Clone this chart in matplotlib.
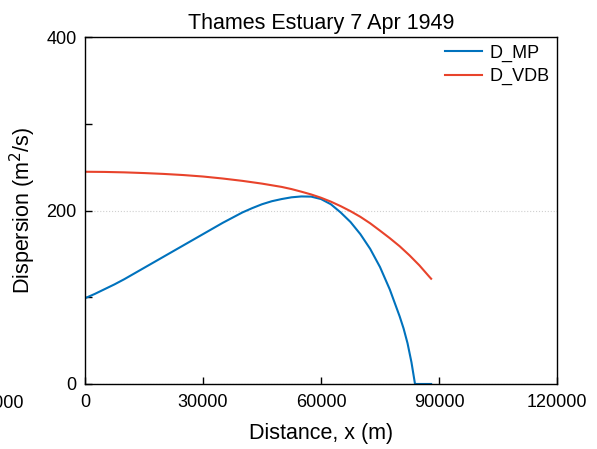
import matplotlib
matplotlib.use("Agg")
import matplotlib.pyplot as plt
from matplotlib.ticker import MultipleLocator

plt.rcParams['font.family'] = ['Liberation Sans', 'DejaVu Sans']

x_mp = [0, 2500, 5000, 7500, 10000, 12500, 15000, 17500, 20000, 22500,
        25000, 27500, 30000, 32500, 35000, 37500, 40000, 42500, 45000, 47500,
        50000, 52500, 55000, 57500, 60000, 62500, 65000, 67500, 70000, 72500,
        75000, 77500, 80000, 81000, 82000, 83000, 83900, 88000]
d_mp = [99, 104, 109.5, 115, 121, 127.5, 134, 140.5, 147, 153.5,
        160, 166.5, 173, 179.5, 186, 192, 198, 203, 207.5, 211,
        213.5, 215.5, 216.5, 216.3, 213.5, 207.5, 198, 187, 173, 156,
        135, 109, 78, 64, 47, 25, 0, 0]

x_vdb = [0, 5000, 10000, 15000, 20000, 25000, 30000, 35000, 40000, 45000,
         50000, 52500, 55000, 57500, 60000, 62500, 65000, 67500, 70000, 72500,
         75000, 77500, 80000, 82500, 85000, 87500, 88000]
d_vdb = [245, 244.8, 244.3, 243.5, 242.5, 241.2, 239.5, 237.2, 234.5, 231.3,
         227.5, 225, 222, 218.8, 215, 210.5, 205.3, 199.5, 193, 185.5,
         177, 168.3, 159, 148.5, 137, 124, 121.5]

xticks = [0, 30000, 60000, 90000, 120000]
yticks = [0, 200, 400]

fig = plt.figure(figsize=(5.97, 4.49), dpi=100)
ax = fig.add_axes([0.1424, 0.1448, 0.7906, 0.7717])

ax.plot(x_mp, d_mp, color='#0072BD', lw=1.5, label='D_MP')
ax.plot(x_vdb, d_vdb, color='#E8432B', lw=1.5, label='D_VDB')

ax.set_xlim(0, 120000)
ax.set_ylim(0, 400)
ax.set_xticks(xticks)
ax.set_xticklabels([str(t) for t in xticks])
ax.set_yticks(yticks)
ax.yaxis.set_minor_locator(MultipleLocator(100))
ax.tick_params(which='both', direction='in', length=5, width=1, labelsize=13,
               top=False, right=False)
ax.tick_params(axis='x', pad=7)
ax.tick_params(axis='y', pad=6)
ax.yaxis.grid(True, which='major', linestyle=':', color='#d0d0d0', lw=0.8)
ax.set_axisbelow(True)
for s in ax.spines.values():
    s.set_linewidth(1.0)

ax.set_title('Thames Estuary 7 Apr 1949', fontsize=15.5)
ax.set_xlabel('Distance, x (m)', fontsize=15.5, labelpad=9)
ax.set_ylabel('Dispersion (m$^2$/s)', fontsize=15.5, labelpad=6)

leg = ax.legend(loc='upper right', frameon=False, fontsize=13, handlelength=2.1,
                handletextpad=0.4, borderaxespad=0.0, labelspacing=0.35)

fig.text(24/597, 1 - 395/449, '30000', ha='right', va='top', fontsize=13)

fig.savefig('out.png', dpi=100)
